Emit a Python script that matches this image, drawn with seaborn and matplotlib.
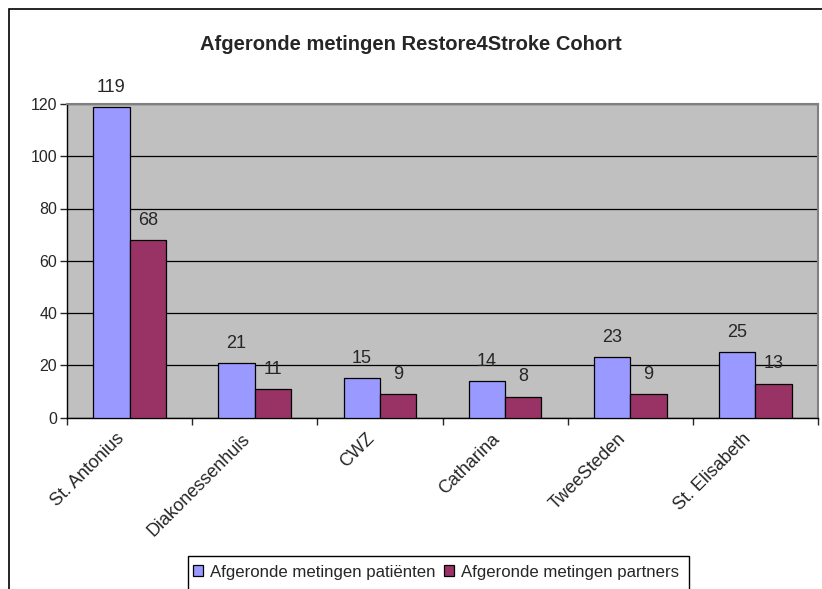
import matplotlib
matplotlib.use('Agg')
import numpy as np
import pandas as pd
import matplotlib.pyplot as plt
import seaborn as sns
from matplotlib.patches import Rectangle
from matplotlib.ticker import FixedLocator
from matplotlib.transforms import ScaledTranslation

ziekenhuizen = ["St. Antonius", "Diakonessenhuis", "CWZ", "Catharina", "TweeSteden", "St. Elisabeth"]
patienten = [119, 21, 15, 14, 23, 25]
partners = [68, 11, 9, 8, 9, 13]
reeksen = ["Afgeronde metingen patiënten", "Afgeronde metingen partners"]
kleuren = ["#9999FF", "#993366"]

df = pd.DataFrame({
    "ziekenhuis": ziekenhuizen * 2,
    "aantal": patienten + partners,
    "reeks": [reeksen[0]] * len(ziekenhuizen) + [reeksen[1]] * len(ziekenhuizen),
})

sns.set_style("white")
plt.rcParams['font.family'] = ['Liberation Sans', 'DejaVu Sans']

fig = plt.figure(figsize=(8.22, 5.89), dpi=100)
# outer chart frame (right and bottom edges fall outside the image)
fig.patches.append(Rectangle((9 / 822, -0.1), 1.1, 1.1 - 9 / 589, transform=fig.transFigure,
                             fill=False, edgecolor="black", linewidth=1.2))
# legend box, also cut off at the bottom
fig.patches.append(Rectangle((188 / 822, -0.1), 501 / 822, 0.1 + 1 - 556 / 589, transform=fig.transFigure,
                             fill=False, edgecolor="black", linewidth=1.0))

ax = fig.add_axes([67 / 822, 1 - 417.5 / 589, 751 / 822, 313.5 / 589])
ax.set_facecolor("#C0C0C0")

sns.barplot(data=df, x="ziekenhuis", y="aantal", hue="reeks", palette=kleuren, saturation=1,
            width=0.58, gap=0, edgecolor="black", linewidth=0.9, ax=ax, zorder=3)

ax.set_ylim(0, 120)
ax.set_xlim(-0.5, len(ziekenhuizen) - 0.5)
ax.set_yticks(np.arange(0, 121, 20))
ax.yaxis.grid(True, color="black", linewidth=0.9, zorder=0)
ax.set_axisbelow(True)

for c in ax.containers:
    ax.bar_label(c, padding=8, fontsize=13)

for s in ["top", "right"]:
    ax.spines[s].set_color("#808080")
    ax.spines[s].set_linewidth(1.5)
for s in ["left", "bottom"]:
    ax.spines[s].set_color("black")
    ax.spines[s].set_linewidth(1.0)

ax.tick_params(axis="y", direction="out", length=5, width=1, labelsize=11.5, pad=2, left=True)
ax.set_xticks(range(len(ziekenhuizen)))
ax.set_xticklabels(ziekenhuizen, rotation=45, ha="right", va="center", rotation_mode="anchor", fontsize=13)
ax.tick_params(axis="x", which="major", length=0, pad=13.5)
shift = ScaledTranslation(-7.5 / 100, 0, fig.dpi_scale_trans)
for lbl in ax.get_xticklabels():
    lbl.set_transform(lbl.get_transform() + shift)
ax.xaxis.set_minor_locator(FixedLocator(np.arange(-0.5, len(ziekenhuizen), 1.0)))
ax.tick_params(axis="x", which="minor", direction="out", length=5, width=1, bottom=True)
ax.set_xlabel("")
ax.set_ylabel("")

ax.legend_.remove()
handles = [Rectangle((0, 0), 1, 1, facecolor=k, edgecolor="black", linewidth=0.9) for k in kleuren]
fig.legend(handles, reeksen, loc="center left", bbox_to_anchor=(193 / 822, 1 - 572 / 589),
           ncol=2, frameon=False, fontsize=12.1,
           handlelength=0.6, handleheight=0.6, handletextpad=0.4, columnspacing=0.5,
           borderpad=0, borderaxespad=0)

fig.text(0.5, 1 - 45 / 589, "Afgeronde metingen Restore4Stroke Cohort", ha="center", va="center",
         fontsize=14.5, fontweight="bold")

fig.savefig("out.png", dpi=100)
